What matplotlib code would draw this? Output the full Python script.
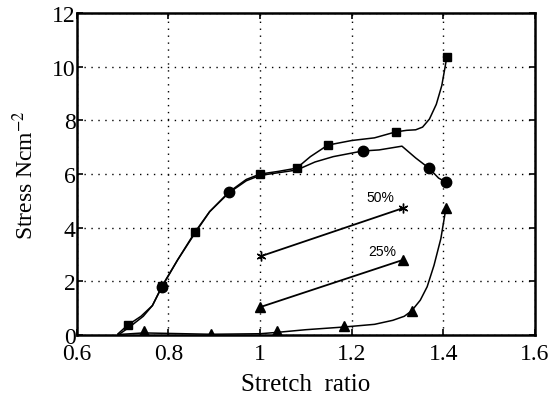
import numpy as np
import matplotlib.pyplot as plt
from matplotlib.ticker import FuncFormatter

plt.rcParams['mathtext.fontset'] = 'stix'

# square-marker curve
sq_x = [0.69, 0.711, 0.74, 0.765, 0.786, 0.82, 0.858, 0.89, 0.932, 0.97, 1.0, 1.04, 1.08,
        1.11, 1.148, 1.2, 1.25, 1.296, 1.32, 1.34, 1.355, 1.37, 1.385, 1.397, 1.408]
sq_y = [0.05, 0.37, 0.7, 1.1, 1.83, 2.8, 3.84, 4.6, 5.33, 5.8, 6.0, 6.1, 6.22,
        6.65, 7.08, 7.25, 7.35, 7.57, 7.63, 7.65, 7.75, 8.05, 8.6, 9.3, 10.36]
sq_mx = [0.711, 0.786, 0.858, 1.0, 1.08, 1.148, 1.296, 1.408]
sq_my = [0.37, 1.83, 3.84, 6.0, 6.22, 7.08, 7.57, 10.36]

# circle-marker curve
ci_x = [0.69, 0.715, 0.745, 0.765, 0.786, 0.82, 0.858, 0.89, 0.932, 0.97, 1.0, 1.04, 1.08,
        1.12, 1.16, 1.224, 1.26, 1.31, 1.34, 1.369, 1.39, 1.406]
ci_y = [0.0, 0.3, 0.7, 1.1, 1.8, 2.8, 3.8, 4.6, 5.3, 5.75, 5.95, 6.05, 6.15,
        6.45, 6.65, 6.86, 6.9, 7.04, 6.6, 6.22, 5.85, 5.7]
ci_mx = [0.786, 0.932, 1.224, 1.369, 1.406]
ci_my = [1.8, 5.33, 6.86, 6.22, 5.7]

# triangle-marker curve
tr_x = [0.69, 0.746, 0.893, 1.0, 1.037, 1.1, 1.183, 1.25, 1.29, 1.315, 1.331, 1.35,
        1.365, 1.38, 1.395, 1.406]
tr_y = [0.02, 0.08, 0.03, 0.05, 0.1, 0.2, 0.3, 0.4, 0.55, 0.7, 0.9, 1.3,
        1.8, 2.6, 3.6, 4.73]
tr_mx = [0.746, 0.893, 1.037, 1.183, 1.331, 1.406]
tr_my = [0.15, 0.05, 0.15, 0.35, 0.9, 4.73]

# 50% and 25% lines
l50_x = [1.002, 1.312]
l50_y = [2.94, 4.73]
l25_x = [1.0, 1.312]
l25_y = [1.04, 2.8]

fig = plt.figure(figsize=(5.53, 4.02), dpi=100)
ax = fig.add_axes([0.139, 0.164, 0.828, 0.801])

ax.plot(sq_x, sq_y, color='k', lw=1.1)
ax.plot(sq_mx, sq_my, 's', color='k', ms=6)
ax.plot(ci_x, ci_y, color='k', lw=1.1)
ax.plot(ci_mx, ci_my, 'o', color='k', ms=7.5)
ax.plot(tr_x, tr_y, color='k', lw=1.1)
ax.plot(tr_mx, tr_my, '^', color='k', ms=7)

ax.plot(l50_x, l50_y, color='k', lw=1.3, marker=(6, 2, 0), ms=7, mew=1)
ax.plot(l25_x, l25_y, color='k', lw=1.3, marker='^', ms=7)
ax.text(1.262, 5.14, '50%', ha='center', va='center', fontsize=10, family='Liberation Sans')
ax.text(1.266, 3.13, '25%', ha='center', va='center', fontsize=10, family='Liberation Sans')

ax.set_xlim(0.6, 1.6)
ax.set_ylim(0, 12)
ax.set_xticks([0.6, 0.8, 1.0, 1.2, 1.4, 1.6])
ax.set_yticks(range(0, 13, 2))
ax.xaxis.set_major_formatter(FuncFormatter(lambda v, p: f'{v:g}'))
ax.grid(True, linestyle=(0, (1, 4)), color='k', lw=1.0)
ax.tick_params(direction='in', top=True, right=True, length=4, width=1.2,
               labelsize=17, labelfontfamily='Liberation Serif', pad=1)
ax.tick_params(axis='x', pad=6)
for s in ax.spines.values():
    s.set_linewidth(1.8)

ax.set_xlabel('Stretch  ratio', fontsize=18, family='Liberation Serif', labelpad=6)
ax.set_ylabel('Stress Ncm$^{-2}$', fontsize=17, family='Liberation Serif', labelpad=10)

fig.savefig('out.png', dpi=100)
